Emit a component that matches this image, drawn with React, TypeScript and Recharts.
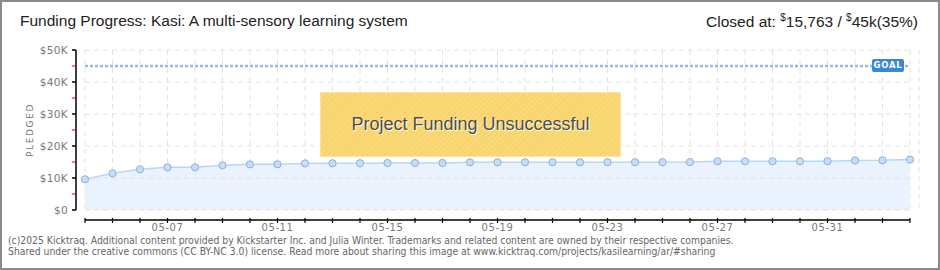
import React from 'react';
import { ComposedChart, Area, XAxis, YAxis, CartesianGrid, ReferenceLine } from 'recharts';

const dates = [
  '05-04', '05-05', '05-06', '05-07', '05-08', '05-09', '05-10', '05-11', '05-12', '05-13',
  '05-14', '05-15', '05-16', '05-17', '05-18', '05-19', '05-20', '05-21', '05-22', '05-23',
  '05-24', '05-25', '05-26', '05-27', '05-28', '05-29', '05-30', '05-31', '06-01', '06-02', '06-03',
];
const pledged = [
  9600, 11450, 12700, 13330, 13350, 13950, 14260, 14280, 14570, 14590,
  14620, 14680, 14690, 14700, 14900, 14910, 14920, 14920, 14930, 14940,
  14950, 14960, 14970, 15200, 15210, 15220, 15230, 15240, 15500, 15530, 15763,
];
const xTickLabels = ['05-07', '05-11', '05-15', '05-19', '05-23', '05-27', '05-31'];
const yTicks = [0, 5000, 10000, 15000, 20000, 25000, 30000, 35000, 40000, 45000, 50000];
const yGridValues = [0, 10000, 20000, 30000, 40000, 50000];
const goal = 45000;
const axisOffsetValue = -3125;

const data = dates.map((d, i) => ({ i, date: d, pledged: pledged[i] }));
const lastIndex = dates.length - 1;

const YTick = (props: any) => {
  const { x, y, payload } = props;
  const v = payload.value as number;
  if (v % 10000 !== 0) {
    return <line x1={x + 4} x2={x + 8} y1={y} y2={y} stroke="#e00000" strokeWidth={1} />;
  }
  const label = v === 0 ? '$0' : `$${v / 1000}K`;
  return (
    <g>
      <line x1={x + 4} x2={x + 8} y1={y} y2={y} stroke="#000" strokeWidth={1.5} />
      <text x={x} y={y} dy={4} textAnchor="end" fill="#777" fontSize={10.5} fontFamily="DejaVu Sans" letterSpacing={0.3}>
        {label}
      </text>
    </g>
  );
};

const XTick = (props: any) => {
  const { x, y, payload } = props;
  const label = dates[payload.value];
  const show = xTickLabels.includes(label);
  return (
    <g>
      <line x1={x} x2={x} y1={y + 8} y2={y + 13} stroke="#000" strokeWidth={1.2} />
      {show && (
        <text x={x} y={y + 21} textAnchor="middle" fill="#777" fontSize={10} fontFamily="DejaVu Sans" letterSpacing={0.6}>
          {label}
        </text>
      )}
    </g>
  );
};

export default function App() {
  return (
    <div style={{ position: 'absolute', left: 0, top: 0, width: 940, height: 270, background: '#fff', overflow: 'hidden' }}>
      <ComposedChart width={940} height={270} data={data} margin={{ top: 50, right: 21, bottom: 30, left: 0 }}>
        <CartesianGrid horizontal={false} stroke="#e2e2e2" strokeDasharray="5 4" />
        {yGridValues.map((v) => (
          <ReferenceLine
            key={v}
            segment={[{ x: 0, y: v }, { x: lastIndex, y: v }]}
            stroke="#e2e2e2"
            strokeDasharray="5 4"
          />
        ))}
        <XAxis
          dataKey="i"
          type="number"
          domain={[0, lastIndex]}
          ticks={data.map((d) => d.i)}
          interval={0}
          padding={{ left: 9, right: 9 }}
          axisLine={false}
          tickLine={false}
          tickSize={0}
          tickMargin={0}
          height={30}
          tick={<XTick />}
        />
        <YAxis
          type="number"
          domain={[0, 50000]}
          ticks={yTicks}
          interval={0}
          width={76}
          axisLine={{ stroke: '#000', strokeWidth: 1.5 }}
          tickLine={false}
          tickSize={4}
          tickMargin={4}
          tick={<YTick />}
        />
        <ReferenceLine
          segment={[{ x: 0, y: axisOffsetValue }, { x: lastIndex, y: axisOffsetValue }]}
          stroke="#000"
          strokeWidth={1.5}
          ifOverflow="visible"
        />
        <ReferenceLine
          segment={[{ x: 0, y: goal }, { x: lastIndex, y: goal }]}
          stroke="#93b8e4"
          strokeWidth={2.5}
          strokeDasharray="3 2"
        />
        <Area
          type="linear"
          dataKey="pledged"
          stroke="#b9d6f4"
          strokeWidth={1.5}
          fill="#eaf3fd"
          fillOpacity={1}
          isAnimationActive={false}
          dot={{ r: 3.6, fill: '#c4ddf8', stroke: '#8fb0d8', strokeWidth: 1, fillOpacity: 1 }}
          activeDot={false}
        />
      </ComposedChart>

      <div style={{ position: 'absolute', left: 20, top: 12, fontFamily: '"Liberation Sans Narrow", "Liberation Sans", sans-serif', fontSize: 15.5, color: '#222', whiteSpace: 'nowrap' }}>
        Funding Progress: Kasi: A multi-sensory learning system
      </div>
      <div style={{ position: 'absolute', right: 22, top: 12, fontFamily: '"Liberation Sans Narrow", "Liberation Sans", sans-serif', fontSize: 15.5, color: '#222', whiteSpace: 'nowrap' }}>
        Closed at: <sup style={{ fontSize: 10 }}>$</sup>15,763 / <sup style={{ fontSize: 10 }}>$</sup>45k(35%)
      </div>

      <div style={{ position: 'absolute', left: 30, top: 130, transform: 'translate(-50%, -50%) rotate(-90deg)', fontFamily: '"DejaVu Sans", sans-serif', fontSize: 9, letterSpacing: 1.6, color: '#777', whiteSpace: 'nowrap' }}>
        PLEDGED
      </div>

      <div style={{ position: 'absolute', left: 320, top: 92, width: 301, height: 65, boxSizing: 'border-box', border: '1px solid #fbe49a', background: 'repeating-linear-gradient(135deg, #f7d46c 0px, #f7d46c 2px, #f9d979 2px, #f9d979 4px)', display: 'flex', alignItems: 'center', justifyContent: 'center' }}>
        <span style={{ fontFamily: '"Liberation Sans Narrow", "Liberation Sans", sans-serif', fontSize: 18, color: '#4d4d4d', textShadow: '1px 1px 0 #fff' }}>
          Project Funding Unsuccessful
        </span>
      </div>

      <div style={{ position: 'absolute', left: 872, top: 59, width: 32, height: 13, background: '#3a86d7', borderRadius: 2, color: '#fff', fontFamily: '"DejaVu Sans", sans-serif', fontSize: 8.5, fontWeight: 'bold', letterSpacing: 0.8, lineHeight: '13px', textAlign: 'center' }}>
        GOAL
      </div>

      <div style={{ position: 'absolute', left: 8, top: 235, fontFamily: '"DejaVu Sans Condensed", "DejaVu Sans", sans-serif', fontSize: 10.3, lineHeight: '11px', color: '#666', whiteSpace: 'nowrap' }}>
        <div>(c)2025 Kicktraq. Additional content provided by Kickstarter Inc. and Julia Winter. Trademarks and related content are owned by their respective companies.</div>
        <div>Shared under the creative commons (CC BY-NC 3.0) license. Read more about sharing this image at www.kicktraq.com/projects/kasilearning/ar/#sharing</div>
      </div>

      <div style={{ position: 'absolute', left: 0, top: 0, width: 940, height: 270, boxSizing: 'border-box', border: '2px solid #8a8a8a', pointerEvents: 'none' }} />
    </div>
  );
}
